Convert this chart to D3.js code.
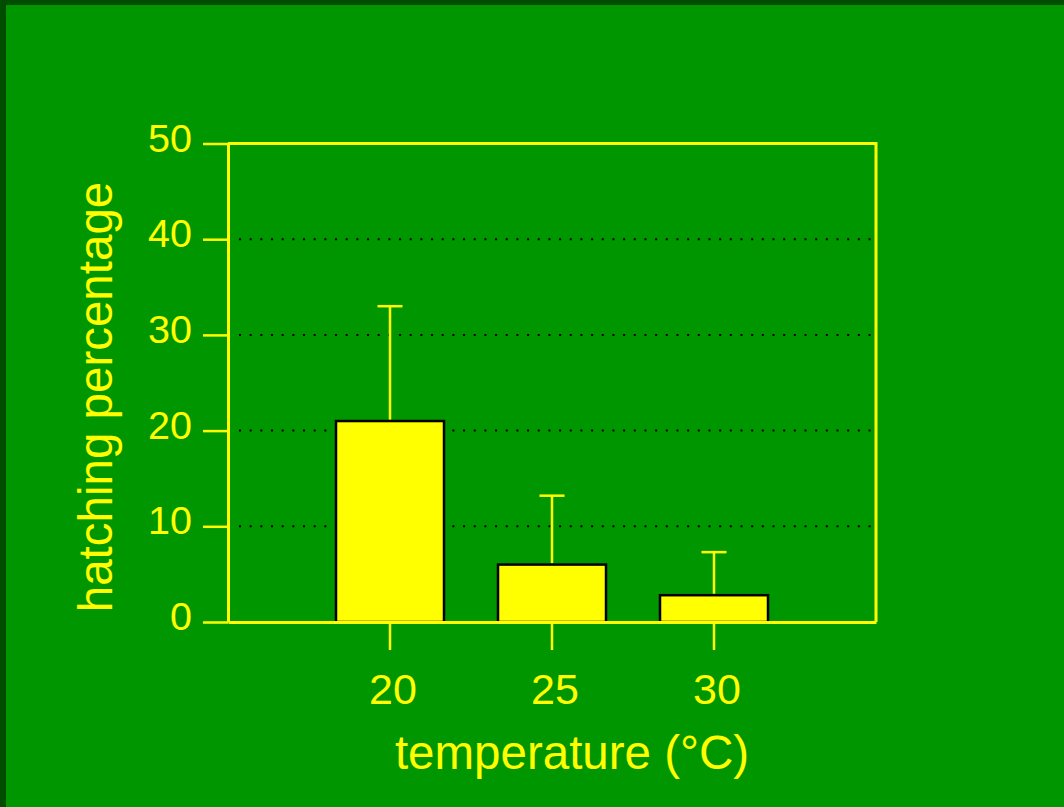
<!DOCTYPE html>
<html>
<head>
<meta charset="utf-8">
<script src="https://cdn.jsdelivr.net/npm/d3@7"></script>
<style>
  html, body { margin: 0; padding: 0; background: #009600; }
  svg { display: block; }
</style>
</head>
<body>
<svg id="chart" width="1064" height="807"></svg>
<script>
// Hatching success by incubation temperature (mean + SD)
const temperatures = ["20", "25", "30"];
const hatchMeans   = [21, 6, 2.8];
const hatchUpperSD = [33, 13.2, 7.3];
const yTicks       = [0, 10, 20, 30, 40, 50];
const gridValues   = [10, 20, 30, 40];

const W = 1064, H = 807;
const plot = { left: 228, right: 876, top: 143.5, bottom: 622 };
const yellow = "#ffff00";
const fontFamily = "'Liberation Sans', Arial, Helvetica, sans-serif";

const svg = d3.select("#chart");

// Background and dark edge
svg.append("rect").attr("width", W).attr("height", H).attr("fill", "#009600");
svg.append("rect").attr("x", 0).attr("y", 0).attr("width", W).attr("height", 5).attr("fill", "#004d00");
svg.append("rect").attr("x", 0).attr("y", 0).attr("width", 6).attr("height", H).attr("fill", "#004d00");

const x = d3.scaleBand()
  .domain(temperatures)
  .range([plot.left, plot.right])
  .paddingInner(1 / 3)
  .paddingOuter(2 / 3);

const y = d3.scaleLinear()
  .domain([0, 50])
  .range([plot.bottom, plot.top]);

// Dotted horizontal gridlines
svg.append("g")
  .selectAll("line")
  .data(gridValues)
  .join("line")
  .attr("x1", plot.left + 11)
  .attr("x2", plot.right - 4)
  .attr("y1", d => y(d))
  .attr("y2", d => y(d))
  .attr("stroke", "#000")
  .attr("stroke-width", 2)
  .attr("stroke-dasharray", "2 8.67");

const rows = temperatures.map((t, i) => ({ t, mean: hatchMeans[i], upper: hatchUpperSD[i] }));

// Bars
svg.append("g")
  .selectAll("rect")
  .data(rows)
  .join("rect")
  .attr("x", d => x(d.t))
  .attr("y", d => y(d.mean))
  .attr("width", x.bandwidth())
  .attr("height", d => y(0) - y(d.mean))
  .attr("fill", yellow)
  .attr("stroke", "#000")
  .attr("stroke-width", 2.5);

// Upper error bars
const err = svg.append("g").attr("stroke", yellow).attr("stroke-width", 2.5);
const cx = d => x(d.t) + x.bandwidth() / 2;
err.selectAll("line.stem")
  .data(rows)
  .join("line")
  .attr("class", "stem")
  .attr("x1", cx).attr("x2", cx)
  .attr("y1", d => y(d.mean) - 1.5)
  .attr("y2", d => y(d.upper));
err.selectAll("line.cap")
  .data(rows)
  .join("line")
  .attr("class", "cap")
  .attr("x1", d => cx(d) - 12.5).attr("x2", d => cx(d) + 12.5)
  .attr("y1", d => y(d.upper))
  .attr("y2", d => y(d.upper));

// Frame (top and right)
svg.append("path")
  .attr("d", `M${plot.left},${plot.top}H${plot.right}V${plot.bottom}`)
  .attr("fill", "none")
  .attr("stroke", yellow)
  .attr("stroke-width", 3);

// Y axis
const yAxis = svg.append("g")
  .attr("transform", `translate(${plot.left},0)`)
  .call(d3.axisLeft(y).tickValues(yTicks).tickSize(25).tickSizeOuter(0).tickPadding(11));
yAxis.select(".domain").attr("stroke", yellow).attr("stroke-width", 3);
yAxis.selectAll(".tick line").attr("stroke", yellow).attr("stroke-width", 2.5);
yAxis.selectAll(".tick text")
  .attr("fill", yellow)
  .attr("font-family", fontFamily)
  .attr("font-size", 39.5)
  .attr("dy", "0.19em");

// X axis
const xAxis = svg.append("g")
  .attr("transform", `translate(0,${plot.bottom})`)
  .call(d3.axisBottom(x).tickSize(28).tickSizeOuter(0).tickPadding(23));
xAxis.select(".domain").attr("stroke", yellow).attr("stroke-width", 3);
xAxis.selectAll(".tick line").attr("stroke", yellow).attr("stroke-width", 2.5);
xAxis.selectAll(".tick text")
  .attr("fill", yellow)
  .attr("font-family", fontFamily)
  .attr("font-size", 43)
  .attr("dx", 3);

// Axis titles
svg.append("text")
  .attr("x", 572)
  .attr("y", 769)
  .attr("text-anchor", "middle")
  .attr("fill", yellow)
  .attr("font-family", fontFamily)
  .attr("font-size", 47.5)
  .text("temperature (°C)");

svg.append("text")
  .attr("transform", "translate(112,397) rotate(-90)")
  .attr("text-anchor", "middle")
  .attr("fill", yellow)
  .attr("font-family", fontFamily)
  .attr("font-size", 47.5)
  .text("hatching percentage");
</script>
</body>
</html>
